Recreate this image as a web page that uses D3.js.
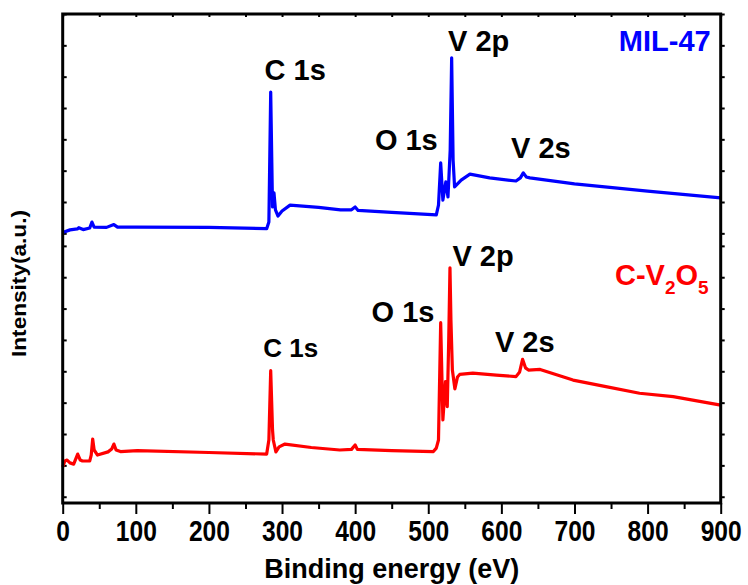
<!DOCTYPE html>
<html>
<head>
<meta charset="utf-8">
<script src="https://cdn.jsdelivr.net/npm/d3@7"></script>
<style>
body { margin: 0; background: #fff; }
text { font-family: "Liberation Sans", Arial, sans-serif; font-weight: bold; }
</style>
</head>
<body>
<div id="vis"></div>
<script>
// XPS survey spectra (intensity in arbitrary units)

// MIL-47 (blue, upper trace)
var milEnergy = [0,10,20,22,28,37,40,43,60,70,75,100,200,279,282,284.5,287,289,291,294.5,
                 300,311,350,380,395,400,404,450,511,514,517,520,524,527,530,532,534,536,545,557,
                 584,620,626,630,634,639,700,800,900];
var milIntensity = [23,31,34,38,32,37,56,40,39,48,40,40,39,35,56,471,104,149,95,75,
                    91,110,103,95,95,104,93,87,79,110,245,126,184,136,286,580,254,168,190,209,
                    197,187,197,213,200,197,178,155,133];

// C-V2O5 (red, lower trace)
var cvEnergy = [0,3,6,10,15,20.5,24,27,37,39,41,43,47.6,62,67,70,73,79,102,200,
                279,282,284.5,287,288,291.6,296,304,340,379,395,400,403,450,507,511,514,517,520,523.6,
                526,528,529.7,531,533,536.4,540,543,561,593,620,625,629,633,637,653,698,743,789,835,900];
var cvIntensity = [115,134,137,128,124,156,137,134,134,153,204,169,153,163,172,188,169,164,167,161,
                   156,201,422,233,201,163,179,188,177,169,171,185,171,167,164,175,201,575,265,387,
                   307,520,750,584,424,364,402,410,414,408,403,418,458,431,424,426,392,371,350,339,312];

var xTicks = [0,100,200,300,400,500,600,700,800,900];
var xMinorTicks = [50,150,250,350,450,550,650,750,850];
var yTicksUpper = [20,120,220,320,420,520,620,720];
var yTicksLower = [20,120,220,320,420,520,620,720,820];

// peak labels: text, energy, intensity (baseline position)
var milLabels = [
    {text: "C 1s", e: 318, v: 509},
    {text: "O 1s", e: 470, v: 286},
    {text: "V 2p", e: 569, v: 603},
    {text: "V 2s", e: 654, v: 260}
];
var cvLabels = [
    {text: "C 1s", e: 312, v: 465, size: 26},
    {text: "O 1s", e: 465.5, v: 578},
    {text: "V 2p", e: 575, v: 756},
    {text: "V 2s", e: 632, v: 482}
];

var pLeft = 62.7, pRight = 720.7, pTop = 14, pBottom = 503, pMid = 239.6;

var svg = d3.select("#vis").append("svg")
    .attr("width", 748)
    .attr("height", 585);

var xScale = d3.scaleLinear().domain([0, 900]).range([pLeft, pRight]);
var yUpper = d3.scaleLinear().domain([0, 720]).range([pMid, pTop]);
var yLower = d3.scaleLinear().domain([0, 840]).range([pBottom, pMid]);

function styleAxis(g) {
    g.select(".domain").remove();
    g.selectAll(".tick line").attr("stroke", "#000").attr("stroke-width", 2);
}

// bottom axis, major + minor
var xAxis = svg.append("g").attr("transform", "translate(0," + pBottom + ")")
    .call(d3.axisBottom(xScale).tickValues(xTicks).tickSize(11).tickPadding(5).tickFormat(d3.format("d")));
styleAxis(xAxis);
xAxis.selectAll(".tick text")
    .attr("font-size", 30)
    .attr("fill", "#000")
    .attr("dy", null)
    .attr("y", 38)
    .attr("transform", "scale(0.82,1)");

svg.append("g").attr("transform", "translate(0," + pBottom + ")")
    .call(d3.axisBottom(xScale).tickValues(xMinorTicks).tickSize(6).tickFormat(""))
    .call(styleAxis);

// top axis
svg.append("g").attr("transform", "translate(0," + pTop + ")")
    .call(d3.axisTop(xScale).tickValues(xTicks.concat(xMinorTicks)).tickSize(-3).tickFormat(""))
    .call(styleAxis);

// left axis (inward) and right axis (outward), two stacked panels
svg.append("g").attr("transform", "translate(" + pLeft + ",0)")
    .call(d3.axisLeft(yUpper).tickValues(yTicksUpper).tickSize(-4).tickFormat(""))
    .call(styleAxis);
svg.append("g").attr("transform", "translate(" + pLeft + ",0)")
    .call(d3.axisLeft(yLower).tickValues(yTicksLower).tickSize(-4).tickFormat(""))
    .call(styleAxis);
svg.append("g").attr("transform", "translate(" + pRight + ",0)")
    .call(d3.axisRight(yUpper).tickValues(yTicksUpper).tickSize(4).tickFormat(""))
    .call(styleAxis);
svg.append("g").attr("transform", "translate(" + pRight + ",0)")
    .call(d3.axisRight(yLower).tickValues(yTicksLower).tickSize(4).tickFormat(""))
    .call(styleAxis);

// traces
var milLine = d3.line()
    .x(function(d, i) { return xScale(milEnergy[i]); })
    .y(function(d) { return yUpper(d); });
var cvLine = d3.line()
    .x(function(d, i) { return xScale(cvEnergy[i]); })
    .y(function(d) { return yLower(d); });

svg.append("path").datum(milIntensity)
    .attr("d", milLine)
    .attr("fill", "none")
    .attr("stroke", "#0000ff")
    .attr("stroke-width", 3.2)
    .attr("stroke-linejoin", "round");

svg.append("path").datum(cvIntensity)
    .attr("d", cvLine)
    .attr("fill", "none")
    .attr("stroke", "#ff0000")
    .attr("stroke-width", 3.2)
    .attr("stroke-linejoin", "round");

// frame
svg.append("rect")
    .attr("x", pLeft).attr("y", pTop)
    .attr("width", pRight - pLeft).attr("height", pBottom - pTop)
    .attr("fill", "none")
    .attr("stroke", "#000")
    .attr("stroke-width", 3);

// peak labels
svg.selectAll(".milLabel")
    .data(milLabels)
    .enter().append("text")
    .attr("class", "milLabel")
    .attr("x", function(d) { return xScale(d.e); })
    .attr("y", function(d) { return yUpper(d.v); })
    .attr("text-anchor", "middle")
    .attr("font-size", 29)
    .text(function(d) { return d.text; });

svg.selectAll(".cvLabel")
    .data(cvLabels)
    .enter().append("text")
    .attr("class", "cvLabel")
    .attr("x", function(d) { return xScale(d.e); })
    .attr("y", function(d) { return yLower(d.v); })
    .attr("text-anchor", "middle")
    .attr("font-size", function(d) { return d.size || 29; })
    .text(function(d) { return d.text; });

// sample names
svg.append("text")
    .attr("x", 710.7).attr("y", 50.7)
    .attr("text-anchor", "end")
    .attr("font-size", 29)
    .attr("fill", "#0000ff")
    .text("MIL-47");

var cv = svg.append("text")
    .attr("x", 615).attr("y", 285)
    .attr("font-size", 29)
    .attr("fill", "#ff0000");
cv.append("tspan").text("C-V");
cv.append("tspan").attr("font-size", 19).attr("dy", 9).text("2");
cv.append("tspan").attr("dy", -9).text("O");
cv.append("tspan").attr("font-size", 19).attr("dy", 9).text("5");

// axis titles
svg.append("text")
    .attr("x", (pLeft + pRight) / 2).attr("y", 578)
    .attr("text-anchor", "middle")
    .attr("font-size", 28)
    .attr("textLength", 255)
    .attr("lengthAdjust", "spacingAndGlyphs")
    .text("Binding energy (eV)");

svg.append("text")
    .attr("transform", "translate(26,283.5)rotate(-90)")
    .attr("text-anchor", "middle")
    .attr("font-size", 20)
    .attr("textLength", 147)
    .attr("lengthAdjust", "spacingAndGlyphs")
    .text("Intensity(a.u.)");
</script>
</body>
</html>
